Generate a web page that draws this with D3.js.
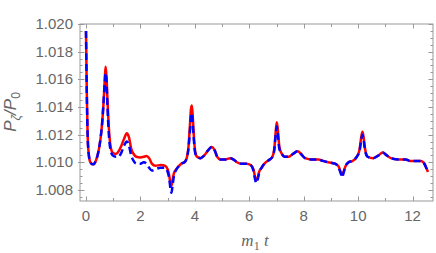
<!DOCTYPE html>
<html><head><meta charset="utf-8">
<script src="https://cdn.jsdelivr.net/npm/d3@7"></script>
<style>html,body{margin:0;padding:0;background:#fff;}svg{display:block;}</style>
</head><body>
<svg id="chart" width="436" height="253"></svg>
<script>
// ---- data ----
const tRed = [0,0.03,0.06,0.1,0.16,0.26,0.36,0.46,0.54,0.6,0.65,0.69,0.72,0.75,0.79,0.84,0.9,0.98,1.1,1.2,1.3,1.4,1.5,1.58,1.66,1.75,1.85,2.0,2.12,2.22,2.32,2.42,2.55,2.75,2.9,3.0,3.06,3.11,3.14,3.18,3.23,3.3,3.4,3.5,3.62,3.7,3.76,3.81,3.86,3.89,3.92,3.96,4.01,4.08,4.2,4.35,4.5,4.62,4.72,4.82,4.95,5.1,5.3,5.42,5.55,5.7,5.9,6.05,6.15,6.22,6.26,6.3,6.36,6.45,6.6,6.75,6.85,6.92,6.97,7.01,7.05,7.1,7.17,7.3,7.45,7.6,7.78,7.9,8.05,8.3,8.55,8.7,8.9,9.15,9.28,9.36,9.41,9.46,9.53,9.65,9.8,9.95,10.05,10.12,10.16,10.2,10.26,10.35,10.55,10.75,10.9,11.05,11.2,11.5,11.75,11.9,12.3,12.4,12.48,12.566];
const red = [1.0195,1.0150,1.0120,1.0106,1.0100,1.00985,1.0101,1.0108,1.0118,1.0130,1.0145,1.0160,1.0169,1.0163,1.0145,1.0125,1.0112,1.0107,1.0106,1.0108,1.0112,1.0117,1.0121,1.0118,1.0110,1.0106,1.0104,1.01035,1.0104,1.01045,1.0103,1.0099,1.00975,1.0098,1.00975,1.0095,1.0090,1.0084,1.0083,1.0087,1.0092,1.00945,1.0097,1.0099,1.0100,1.0103,1.0110,1.0124,1.0139,1.0141,1.0134,1.0120,1.0108,1.0104,1.0103,1.0105,1.0109,1.0111,1.0109,1.0104,1.0102,1.0102,1.0103,1.0102,1.0100,1.0099,1.0099,1.0098,1.0095,1.0089,1.0087,1.0088,1.0093,1.0096,1.0100,1.0102,1.0104,1.0110,1.0122,1.0129,1.0123,1.0112,1.0107,1.0104,1.0104,1.0106,1.0108,1.0106,1.0103,1.0102,1.0102,1.0101,1.0100,1.0099,1.0097,1.0093,1.0091,1.0093,1.0097,1.0100,1.0101,1.0104,1.0109,1.0119,1.0122,1.0118,1.0109,1.0104,1.0103,1.0105,1.0107,1.0105,1.0103,1.0102,1.0102,1.0101,1.0101,1.0100,1.0097,1.0093];
const tBlue = [0,0.03,0.06,0.1,0.16,0.26,0.36,0.46,0.54,0.6,0.65,0.69,0.72,0.75,0.79,0.84,0.9,0.98,1.1,1.2,1.3,1.4,1.5,1.58,1.66,1.75,1.85,2.0,2.12,2.22,2.32,2.42,2.55,2.75,2.9,3.0,3.06,3.11,3.14,3.18,3.23,3.3,3.4,3.5,3.62,3.7,3.76,3.81,3.86,3.89,3.92,3.96,4.01,4.08,4.2,4.35,4.5,4.62,4.72,4.82,4.95,5.1,5.3,5.42,5.55,5.7,5.9,6.05,6.15,6.22,6.26,6.3,6.36,6.45,6.6,6.75,6.85,6.92,6.97,7.01,7.05,7.1,7.17,7.3,7.45,7.6,7.78,7.9,8.05,8.3,8.55,8.7,8.9,9.15,9.28,9.36,9.41,9.46,9.53,9.65,9.8,9.95,10.05,10.12,10.16,10.2,10.26,10.35,10.55,10.75,10.9,11.05,11.2,11.5,11.75,11.9,12.3,12.4,12.48,12.566];
const blue = [1.0195,1.0150,1.0120,1.0106,1.0100,1.00985,1.0101,1.0108,1.0118,1.0130,1.0145,1.0158,1.01645,1.0160,1.0140,1.0120,1.0109,1.0105,1.0104,1.0104,1.0107,1.0112,1.0115,1.0112,1.0105,1.0101,1.0099,1.0099,1.0100,1.0099,1.0096,1.0094,1.0095,1.0096,1.0096,1.0093,1.0088,1.0080,1.0078,1.0083,1.0090,1.0094,1.0097,1.0099,1.0100,1.0103,1.0109,1.0120,1.0133,1.01355,1.0129,1.0117,1.0107,1.0104,1.0103,1.0105,1.0109,1.0111,1.0109,1.0104,1.0102,1.0102,1.0103,1.0102,1.0100,1.0099,1.0099,1.0098,1.0094,1.0087,1.0085,1.0087,1.0092,1.0096,1.0100,1.0102,1.0104,1.0109,1.0120,1.01258,1.0120,1.0110,1.0107,1.0104,1.0104,1.0106,1.0108,1.0106,1.0103,1.0102,1.0102,1.0101,1.0100,1.0099,1.0096,1.0092,1.0089,1.0092,1.0097,1.0100,1.0101,1.0104,1.0108,1.0117,1.0120,1.0116,1.0108,1.0104,1.0103,1.0105,1.0107,1.0105,1.0103,1.0102,1.0102,1.0101,1.0101,1.0100,1.0097,1.0093];
const xTicks = [0,2,4,6,8,10,12];
const xMinorTicks = [1,3,5,7,9,11];
const yTicks = [1.008,1.010,1.012,1.014,1.016,1.018,1.020];
const yMinorTicks = d3.range(1.0075,1.02,0.0005).map(v=>+v.toFixed(4)).filter(v=>!yTicks.some(t=>Math.abs(t-v)<1e-7));

// ---- layout ----
const L=80,R=433,T=24,B=201;
const x=d3.scaleLinear().domain([-0.22,12.75]).range([L,R]);
const y=d3.scaleLinear().domain([1.0072,1.0200]).range([B,T]);
const svg=d3.select('#chart');
const gray='#999', tc='#666';

// frame
svg.append('rect').attr('x',L).attr('y',T).attr('width',R-L).attr('height',B-T)
  .attr('fill','none').attr('stroke',gray).attr('stroke-width',1);

// ticks (inward, all four sides)
const tk=svg.append('g').attr('stroke',gray).attr('stroke-width',1);
function xt(vals,len){vals.forEach(v=>{const px=Math.round(x(v))+0.5;
  tk.append('line').attr('x1',px).attr('x2',px).attr('y1',B).attr('y2',B-len);
  tk.append('line').attr('x1',px).attr('x2',px).attr('y1',T).attr('y2',T+len);});}
function yt(vals,len,out){vals.forEach(v=>{const py=Math.round(y(v))+0.5;
  tk.append('line').attr('x1',L-out).attr('x2',L+len).attr('y1',py).attr('y2',py);
  tk.append('line').attr('x1',R).attr('x2',R-len).attr('y1',py).attr('y2',py);});}
xt(xTicks,4.5); xt(xMinorTicks,3); yt(yTicks,4.5,2); yt(yMinorTicks,2.5,0);

// tick labels
const font='"Liberation Sans", Arial, sans-serif';
svg.append('g').selectAll('text').data(xTicks).join('text')
  .attr('x',d=>x(d)).attr('y',221).attr('text-anchor','middle')
  .attr('font-family',font).attr('font-size',15).attr('fill',tc).text(d=>d);
svg.append('g').selectAll('text').data(yTicks).join('text')
  .attr('x',73).attr('y',d=>y(d)+5).attr('text-anchor','end')
  .attr('font-family',font).attr('font-size',15).attr('fill',tc).text(d=>d3.format('.3f')(d));

// axis titles
const yt_=svg.append('text').attr('transform','translate(16,112) rotate(-90)')
  .attr('text-anchor','middle').attr('font-family',font).attr('font-size',17).attr('fill',tc);
yt_.append('tspan').attr('font-style','italic').text('P');
yt_.append('tspan').attr('font-size',12).attr('dy',4).attr('font-style','italic').text('ζ');
yt_.append('tspan').attr('dy',-4).attr('font-style','italic').text('/P');
yt_.append('tspan').attr('font-size',12).attr('dy',4).text('0');

const xt_=svg.append('text').attr('x',255).attr('y',246).attr('text-anchor','middle')
  .attr('font-family','"Liberation Serif", "Times New Roman", serif').attr('font-size',17).attr('fill',tc);
xt_.append('tspan').attr('font-style','italic').text('m');
xt_.append('tspan').attr('font-size',12).attr('dy',4).text('1');
xt_.append('tspan').attr('dy',-4).attr('font-style','italic').text(' t');

// curves
const line=d3.line().x(d=>x(d[0])).y(d=>y(d[1])).curve(d3.curveMonotoneX);
const g=svg.append('g');
g.append('path').datum(tRed.map((t,i)=>[t,red[i]])).attr('d',line)
  .attr('fill','none').attr('stroke','#ff0000').attr('stroke-width',2.5).attr('stroke-linejoin','round');
g.append('path').datum(tBlue.map((t,i)=>[t,blue[i]])).attr('d',line)
  .attr('fill','none').attr('stroke','#0000ff').attr('stroke-width',2.5).attr('stroke-dasharray','7,4');
</script>
</body></html>
